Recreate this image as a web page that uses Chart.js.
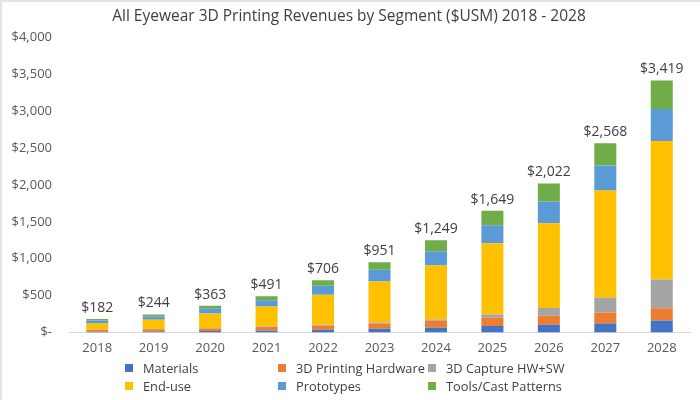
<!DOCTYPE html>
<html>
<head>
<meta charset="utf-8">
<script src="https://cdn.jsdelivr.net/npm/chart.js@4"></script>
<style>
  body { margin: 0; background: #fff; }
  #wrap { position: relative; width: 700px; height: 400px; }
  #marco { position: absolute; left: 0; top: 0; width: 700px; height: 400px; pointer-events: none;
    box-shadow: inset 2px 2px 0 #E4E4E4; }
  #legend {
    position: absolute; left: 125px; top: 359px; width: 470px;
    display: grid; grid-template-columns: 153px 150px 167px; row-gap: 0px;
    font-family: "Open Sans", sans-serif; font-size: 12.8px; color: #404040;
  }
  #legend span.box { display: inline-block; width: 8px; height: 8px; margin-right: 10px; vertical-align: 1px; }
</style>
</head>
<body>
<div id="wrap">
  <canvas id="grafico" width="700" height="400"></canvas>
  <div id="legend"></div>
  <div id="marco"></div>
</div>
<script>
const anios = ['2018', '2019', '2020', '2021', '2022', '2023', '2024', '2025', '2026', '2027', '2028'];

const materiales   = [8, 12, 18, 25, 35, 50, 64, 86, 104, 122, 163];
const hardware     = [25, 30, 35, 48, 60, 72, 94, 113, 122, 149, 166];
const captura      = [2, 3, 4, 6, 8, 13, 18, 45, 104, 199, 389];
const usoFinal     = [87, 127, 198, 271, 408, 557, 732, 966, 1151, 1454, 1879];
const prototipos   = [41, 45, 73, 86, 122, 159, 194, 244, 294, 339, 434];
const herramientas = [19, 27, 35, 55, 73, 100, 147, 195, 247, 305, 388];

const totales = [182, 244, 363, 491, 706, 951, 1249, 1649, 2022, 2568, 3419];

const series = [
    { label: 'Materials', data: materiales, color: '#4472C4' },
    { label: '3D Printing Hardware', data: hardware, color: '#ED7D31' },
    { label: '3D Capture HW+SW', data: captura, color: '#A5A5A5' },
    { label: 'End-use', data: usoFinal, color: '#FFC000' },
    { label: 'Prototypes', data: prototipos, color: '#5B9BD5' },
    { label: 'Tools/Cast Patterns', data: herramientas, color: '#70AD47' }
];

function dinero(v) {
    if (v === 0) return '$-';
    return '$' + v.toLocaleString('en-US');
}

// etiquetas con el total encima de cada barra
const totalesPlugin = {
    id: 'totales',
    afterDatasetsDraw(chart) {
        const ctx = chart.ctx;
        const meta = chart.getDatasetMeta(series.length - 1);
        ctx.save();
        ctx.font = '14px "Open Sans", sans-serif';
        ctx.fillStyle = '#404040';
        ctx.textAlign = 'center';
        ctx.textBaseline = 'bottom';
        meta.data.forEach((bar, i) => {
            ctx.fillText(dinero(totales[i]), bar.x, bar.y - 4);
        });
        ctx.restore();
    }
};

const ctx = document.getElementById('grafico').getContext('2d');
window.grafico = new Chart(ctx, {
    type: 'bar',
    data: {
        labels: anios,
        datasets: series.map(s => ({
            label: s.label,
            data: s.data,
            backgroundColor: s.color,
            barPercentage: 0.39,
            categoryPercentage: 1
        }))
    },
    options: {
        responsive: false,
        animation: false,
        layout: { padding: { left: 8, right: 10, top: 0, bottom: 36 } },
        plugins: {
            legend: { display: false },
            tooltip: { enabled: false },
            title: {
                display: true,
                text: 'All Eyewear 3D Printing Revenues by Segment ($USM) 2018 - 2028',
                color: '#404040',
                font: { family: 'Open Sans', size: 15.5, weight: 'normal' },
                padding: { top: 7, bottom: 12 }
            }
        },
        scales: {
            x: {
                stacked: true,
                grid: { display: false, drawTicks: false },
                border: { color: '#D9D9D9' },
                ticks: { color: '#595959', font: { family: 'Open Sans', size: 13 }, padding: 8 }
            },
            y: {
                stacked: true,
                min: 0,
                max: 4000,
                grid: { display: false, drawTicks: false },
                border: { display: false },
                afterFit: scale => { scale.width = 61; },
                ticks: {
                    stepSize: 500,
                    color: '#595959',
                    font: { family: 'Open Sans', size: 13 },
                    padding: 17,
                    callback: v => dinero(v)
                }
            }
        }
    },
    plugins: [totalesPlugin]
});

const leyenda = document.getElementById('legend');
series.forEach(s => {
    const item = document.createElement('div');
    item.innerHTML = `<span class="box" style="background:${s.color}"></span>${s.label}`;
    leyenda.appendChild(item);
});
</script>
</body>
</html>
